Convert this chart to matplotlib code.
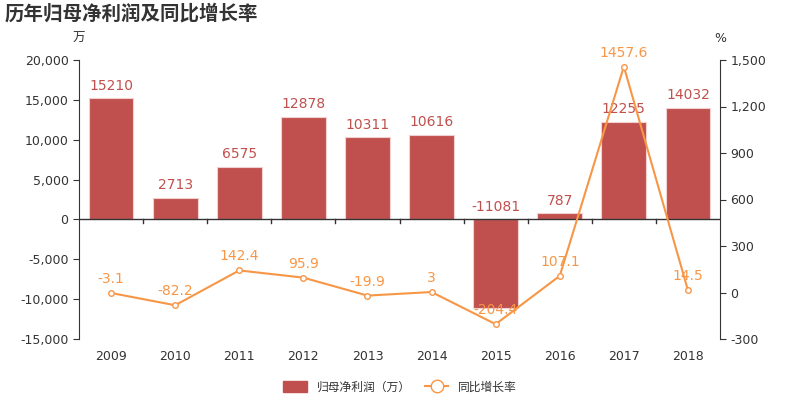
import matplotlib.pyplot as plt
import numpy as np
from matplotlib.patches import Patch
from matplotlib.lines import Line2D

plt.rcParams['font.family'] = ['DejaVu Sans', 'Noto Sans CJK SC']

years = ['2009', '2010', '2011', '2012', '2013', '2014', '2015', '2016', '2017', '2018']
profit = [15210, 2713, 6575, 12878, 10311, 10616, -11081, 787, 12255, 14032]
growth = [-3.1, -82.2, 142.4, 95.9, -19.9, 3, -204.4, 107.1, 1457.6, 14.5]
growth_labels = ['-3.1', '-82.2', '142.4', '95.9', '-19.9', '3', '-204.4', '107.1', '1457.6', '14.5']

bar_color = '#c0504d'
line_color = '#f79646'
text_color = '#333333'
cjk = ['Noto Sans CJK SC', 'DejaVu Sans']

fig = plt.figure(figsize=(8, 4), dpi=100)
ax = fig.add_axes([0.09875, 0.1525, 0.80125, 0.6975])
ax2 = ax.twinx()

x = np.arange(len(years))
ax.bar(x, profit, width=0.7, color=bar_color, edgecolor='#f2d0cf', linewidth=0.8, zorder=2)
for xi, v in zip(x, profit):
    ax.annotate(str(v), (xi, max(v, 0)), xytext=(0, 4), textcoords='offset points',
                ha='center', va='bottom', color=bar_color, fontsize=10)

ax.set_xlim(-0.5, len(years) - 0.5)
ax.set_ylim(-15000, 20000)
ax.set_yticks(np.arange(-15000, 20001, 5000))
ax.set_yticklabels([f'{v:,}' for v in range(-15000, 20001, 5000)])
ax.set_xticks(x)
ax.set_xticklabels(years)
ax.tick_params(axis='x', length=0, pad=8, labelsize=9, colors=text_color)
ax.tick_params(axis='y', labelsize=9, colors=text_color, length=4)
ax.spines['top'].set_visible(False)
ax.spines['right'].set_visible(False)
ax.spines['bottom'].set_visible(False)
ax.spines['left'].set_color('#333333')
ax.axhline(0, color='#333333', linewidth=1, zorder=3)
for b in np.arange(0.5, len(years) - 1, 1):
    ax.plot([b, b], [0, -500], color='#333333', linewidth=1, zorder=3, clip_on=False)

ax2.plot(x, growth, color=line_color, linewidth=1.5, marker='o', markersize=4,
         markerfacecolor='white', markeredgecolor=line_color, zorder=4)
for xi, v, lab in zip(x, growth, growth_labels):
    ax2.annotate(lab, (xi, v), xytext=(0, 5), textcoords='offset points',
                 ha='center', va='bottom', color=line_color, fontsize=10)
ax2.set_ylim(-300, 1500)
ax2.set_yticks(np.arange(-300, 1501, 300))
ax2.set_yticklabels([f'{v:,}' for v in range(-300, 1501, 300)])
ax2.tick_params(axis='y', labelsize=9, colors=text_color, length=4)
for s in ['top', 'left', 'bottom']:
    ax2.spines[s].set_visible(False)
ax2.spines['right'].set_color('#333333')

fig.text(0.00625, 0.967, '历年归母净利润及同比增长率', family=cjk, fontsize=14,
         fontweight='bold', color=text_color, va='center', ha='left')
fig.text(0.099, 0.905, '万', family=cjk, fontsize=9, color=text_color, ha='center', va='center')
fig.text(0.9, 0.905, '%', fontsize=9, color=text_color, ha='center', va='center')

handles = [Patch(facecolor=bar_color, edgecolor=bar_color),
           Line2D([0], [0], color=line_color, marker='o', markersize=9,
                  markerfacecolor='white', markeredgecolor=line_color, linewidth=1.5)]
leg = fig.legend(handles, ['归母净利润（万）', '同比增长率'], loc='center', bbox_to_anchor=(0.5, 0.032),
                 ncol=2, frameon=False, prop={'family': cjk, 'size': 8.5}, handlelength=2.0,
                 handleheight=1.0, columnspacing=1.2)
for t in leg.get_texts():
    t.set_color(text_color)

fig.savefig('out.png', dpi=100)
